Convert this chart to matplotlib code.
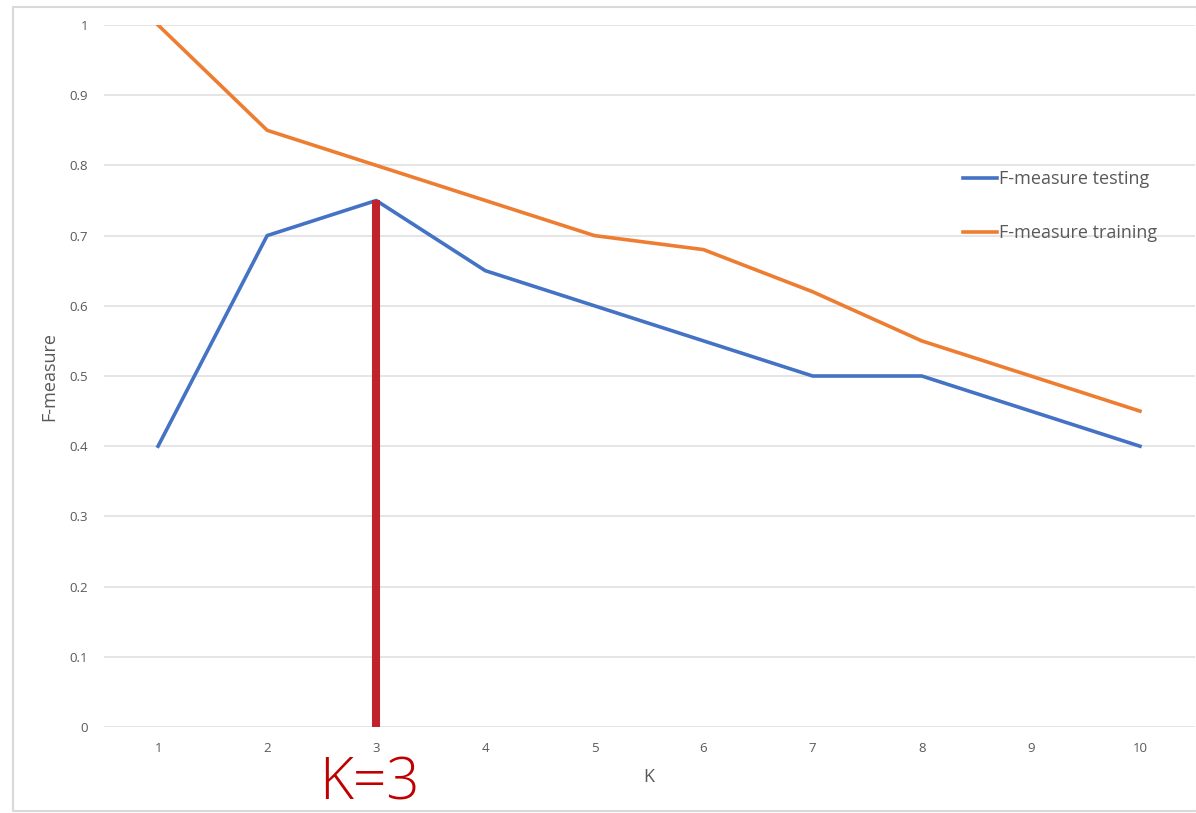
import matplotlib
matplotlib.use("Agg")
import matplotlib.pyplot as plt
from matplotlib.patches import Rectangle

plt.rcParams['font.family'] = ['Open Sans', 'DejaVu Sans']

k_values = [1, 2, 3, 4, 5, 6, 7, 8, 9, 10]
f_testing = [0.4, 0.7, 0.75, 0.65, 0.6, 0.55, 0.5, 0.5, 0.45, 0.4]
f_training = [1.0, 0.85, 0.8, 0.75, 0.7, 0.68, 0.62, 0.55, 0.5, 0.45]
y_ticks = [0, 0.1, 0.2, 0.3, 0.4, 0.5, 0.6, 0.7, 0.8, 0.9, 1]
y_tick_labels = ["0", "0.1", "0.2", "0.3", "0.4", "0.5", "0.6", "0.7", "0.8", "0.9", "1"]
best_k = 3

W, H = 1196, 813
fig = plt.figure(figsize=(W / 100, H / 100), dpi=100)
fig.patch.set_facecolor("white")

# chart frame
fig.patches.append(Rectangle((13 / W, 2 / H), (W - 12) / W, (811 - 7) / H,
                             transform=fig.transFigure, fill=False,
                             edgecolor="#D9D9D9", linewidth=1.5))

ax = fig.add_axes([103.5 / W, (H - 727) / H, (1194.5 - 103.5) / W, (727 - 25) / H])
ax.set_xlim(0.5, 10.5)
ax.set_ylim(0, 1)

for s in ax.spines.values():
    s.set_visible(False)
ax.set_yticks(y_ticks)
ax.set_yticklabels(y_tick_labels)
ax.set_xticks(k_values)
ax.set_xticklabels([str(k) for k in k_values])
ax.tick_params(axis="both", length=0, labelsize=9.5, labelcolor="#595959")
ax.tick_params(axis="y", pad=11)
ax.tick_params(axis="x", pad=11)
ax.grid(axis="y", color="#E3E3E3", linewidth=1.3)
ax.set_axisbelow(True)

ax.plot(k_values, f_testing, color="#4472C4", linewidth=2.6,
        label="F-measure testing", solid_joinstyle="round", zorder=3)
ax.plot(k_values, f_training, color="#ED7D31", linewidth=2.6,
        label="F-measure training", solid_joinstyle="round", zorder=3)

# marker for the chosen K
best_val = f_testing[k_values.index(best_k)]
ax.plot([best_k, best_k], [0, best_val], color="#C0232B", linewidth=5.8,
        solid_capstyle="butt", zorder=4)

ax.set_ylabel("F-measure", fontsize=13, color="#595959")
ax.yaxis.set_label_coords((58 - 103.5) / (1194.5 - 103.5), 0.5)
ax.set_xlabel("K", fontsize=13, color="#595959", labelpad=9)

leg = ax.legend(loc="upper left", bbox_to_anchor=(852 / 1091, (727 - 163) / 702),
                frameon=False, fontsize=13, handlelength=1.9, handletextpad=0.12,
                labelspacing=2.0, borderaxespad=0)
for t in leg.get_texts():
    t.set_color("#595959")

fig.text(369 / W, 1 - 784 / H, "K=3", color="#C00000", fontsize=42,
         fontweight="light", ha="center", va="center")

fig.savefig("out.png", dpi=100)
